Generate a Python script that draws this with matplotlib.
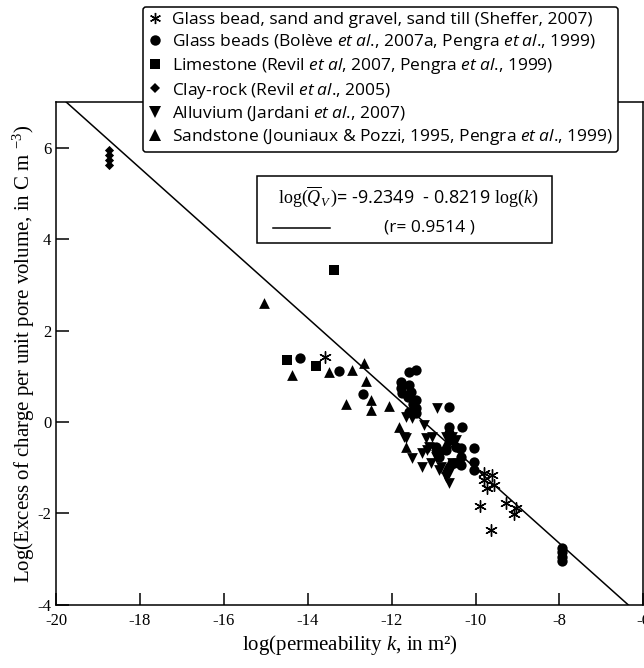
"""Excess charge per unit pore volume vs permeability, with the fitted trend."""

import matplotlib

matplotlib.use("Agg")
import matplotlib.pyplot as plt
from matplotlib.lines import Line2D
from matplotlib.patches import Rectangle
import numpy as np

plt.rcParams["font.family"] = "Liberation Serif"
plt.rcParams["axes.unicode_minus"] = False
plt.rcParams["mathtext.fontset"] = "custom"
plt.rcParams["mathtext.rm"] = "Liberation Serif"
plt.rcParams["mathtext.it"] = "Liberation Serif:italic"
plt.rcParams["mathtext.sf"] = "Open Sans:italic"
SANS = "Open Sans"

# --- data (log k in m^2, log Qv in C m^-3) ---
sheffer_k = [-13.6, -9.80, -9.61, -9.80, -9.57, -9.73, -9.90, -9.28, -9.04, -9.09, -9.64]
sheffer_q = [1.43, -1.12, -1.16, -1.27, -1.38, -1.45, -1.84, -1.77, -1.88, -2.01, -2.36]

beads_k = [-14.18, -13.25, -12.68,
           -11.59, -11.42, -11.78, -11.78, -11.75, -11.59, -11.54, -11.42, -11.42,
           -11.42, -11.59, -11.50, -11.60,
           -10.63, -10.63, -10.33, -10.35, -10.35, -10.04, -10.04, -10.04, -10.59,
           -10.71, -10.94, -10.87, -10.52, -10.35, -10.63, -10.47,
           -7.95, -7.95, -7.95, -7.95]
beads_q = [1.40, 1.12, 0.61,
           1.10, 1.14, 0.88, 0.74, 0.63, 0.81, 0.66, 0.48, 0.31,
           0.20, 0.22, 0.40, 0.55,
           0.33, -0.11, -0.11, -0.57, -0.77, -0.57, -0.88, -1.05, -0.39,
           -0.61, -0.55, -0.77, -0.90, -0.95, -0.24, -0.55,
           -2.76, -2.86, -2.96, -3.05]

lime_k = [-14.49, -13.80, -13.37]
lime_q = [1.36, 1.23, 3.33]

clay_k = [-18.74, -18.74, -18.74, -18.74]
clay_q = [5.96, 5.85, 5.74, 5.63]

alluv_k = [-10.92, -11.66, -11.51, -11.23, -11.66, -11.18, -10.71, -10.56, -11.51,
           -11.28, -11.06, -10.94, -10.80, -10.82, -10.63, -10.63, -10.47, -11.11,
           -10.56, -11.28, -11.16, -10.87, -11.04, -11.70, -10.94, -10.71]
alluv_q = [0.31, 0.11, 0.09, -0.07, -0.35, -0.35, -0.33, -0.33, -0.79,
           -0.68, -0.90, -0.77, -0.66, -0.98, -1.12, -1.34, -0.39, -0.55,
           -0.90, -0.98, -0.61, -1.05, -0.33, -0.33, -0.72, -1.20]

sand_k = [-15.05, -14.37, -13.49, -12.94, -12.65, -12.61, -13.08, -12.49, -12.49,
          -12.06, -11.82, -11.66, -10.71, -10.63, -10.70]
sand_q = [2.60, 1.03, 1.10, 1.14, 1.29, 0.90, 0.39, 0.48, 0.26,
          0.35, -0.11, -0.55, -0.46, -0.90, -1.00]

fit_intercept = -9.2349
fit_slope = -0.8219
fit_r = 0.9514

labels = [
    "Glass bead, sand and gravel, sand till (Sheffer, 2007)",
    r"Glass beads (Bolève $\mathsf{et\ al}$., 2007a, Pengra $\mathsf{et\ al}$., 1999)",
    r"Limestone (Revil $\mathsf{et\ al}$, 2007, Pengra $\mathsf{et\ al}$., 1999)",
    r"Clay-rock (Revil $\mathsf{et\ al}$., 2005)",
    r"Alluvium (Jardani $\mathsf{et\ al}$., 2007)",
    r"Sandstone (Jouniaux & Pozzi, 1995, Pengra $\mathsf{et\ al}$., 1999)",
]
markers = [(6, 2, 0), "o", "s", "D", "v", "^"]
sizes = [70, 55, 50, 22, 60, 60]

fig = plt.figure(figsize=(6.44, 6.68), dpi=100)
ax = fig.add_axes([0.087, 0.095, 0.912, 0.752])

series = [(sheffer_k, sheffer_q), (beads_k, beads_q), (lime_k, lime_q),
          (clay_k, clay_q), (alluv_k, alluv_q), (sand_k, sand_q)]
for (k, q), m, s in zip(series, markers, sizes):
    if m == (6, 2, 0):
        ax.scatter(k, q, marker=m, s=s, color="black", linewidths=1.0, zorder=3)
    else:
        ax.scatter(k, q, marker=m, s=s, color="black", linewidths=0, zorder=3)

xfit = np.array([-20, -6])
ax.plot(xfit, fit_intercept + fit_slope * xfit, color="black", lw=1.1, zorder=2)

ax.set_xlim(-20, -6)
ax.set_ylim(-4, 7)
ax.set_xticks(range(-20, -5, 2))
ax.set_yticks(range(-4, 7, 2))
ax.tick_params(direction="in", length=9, width=1.1, labelsize=12, pad=6)
ax.tick_params(axis="y", pad=3.5)
for sp in ax.spines.values():
    sp.set_linewidth(1.1)
ax.set_xlabel(r"log(permeability $k$, in m²)", fontsize=15, labelpad=3)
ax.set_ylabel(r"Log(Excess of charge per unit pore volume, in C m $^{-3}$)",
              fontsize=15, labelpad=0)

# equation box
ax.add_patch(Rectangle((0.342, 0.720), 0.502, 0.133, transform=ax.transAxes,
                       fill=False, edgecolor="black", lw=1.1, zorder=4))
ax.text(0.600, 0.811,
        r"$\mathrm{log}(\overline{Q}_V\,)$= -9.2349  - 0.8219 $\mathrm{log}(k)$",
        transform=ax.transAxes, ha="center", va="center", fontsize=13, family=SANS)
ax.plot([0.369, 0.466], [0.750, 0.750], transform=ax.transAxes, color="black", lw=1.1)
ax.text(0.636, 0.750, f"(r= {fit_r} )", transform=ax.transAxes,
        ha="center", va="center", fontsize=12.5, family=SANS)

handles = [Line2D([], [], ls="none", marker=m, color="black", mec="black",
                  markersize=ms, mew=1.0 if m == (6, 2, 0) else 0)
           for m, ms in zip(markers, [8, 7.5, 7, 5, 8, 8])]
leg = fig.legend(handles, labels, loc="upper left", bbox_to_anchor=(0.222, 0.990),
                 prop={"family": SANS, "size": 12.5}, frameon=True, fancybox=True,
                 edgecolor="black", framealpha=1, handlelength=0.8, handletextpad=0.6,
                 labelspacing=0.24, borderpad=0.3, borderaxespad=0)
leg.get_frame().set_linewidth(1.1)
leg.set_zorder(10)

fig.savefig("out.png", dpi=100)
